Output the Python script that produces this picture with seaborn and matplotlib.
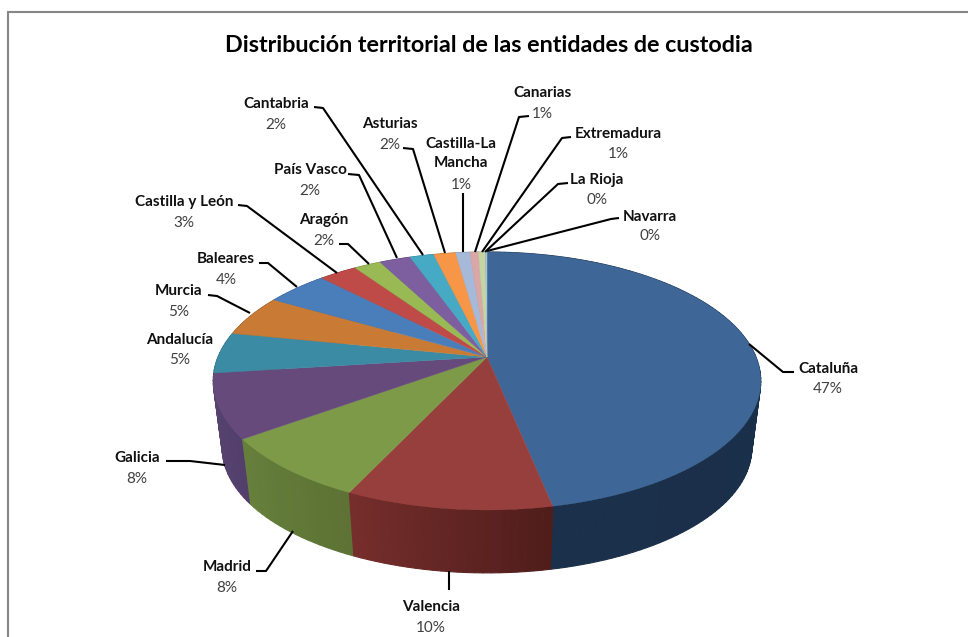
import numpy as np
import matplotlib
matplotlib.use("Agg")
import matplotlib.pyplot as plt
import seaborn as sns
from matplotlib.transforms import Transform
from matplotlib.colors import to_rgb

regions = ["Cataluña", "Valencia", "Madrid", "Galicia", "Andalucía", "Murcia", "Baleares",
           "Castilla y León", "Aragón", "País Vasco", "Cantabria", "Asturias",
           "Castilla-La\nMancha", "Canarias", "Extremadura", "La Rioja", "Navarra"]
shares = [46.8, 10.2, 8.0, 8.0, 5.15, 5.2, 4.4, 2.7, 1.9, 2.2, 1.7, 1.55, 1.0, 0.6, 0.5, 0.05, 0.05]
percent_labels = ["47%", "10%", "8%", "8%", "5%", "5%", "4%", "3%", "2%", "2%", "2%", "2%",
                  "1%", "1%", "1%", "0%", "0%"]
top_colors = ["#3e6797", "#963f3d", "#7d9a48", "#664a7c", "#3a8ba3", "#c97a35", "#4a7ebb",
              "#be4b48", "#98b954", "#7d5fa0", "#46aac5", "#f79646", "#a7b9d9", "#d9a7a6",
              "#c3d5a3", "#b3a5c9", "#a5d5e0"]
wall_left = ["#1b304b", "#762e2c", "#66803c", "#5a4570", "#2a6678", "#8f5725", "#35598a",
             "#873532", "#6c843c", "#594372", "#31798c", "#b06a32", "#77849a", "#9a7776",
             "#8b9874", "#7f758f", "#7597a0"]
wall_right = ["#192c45", "#4f1d1b", "#5d7234", "#533f6c", "#2a6678", "#8f5725", "#35598a",
              "#873532", "#6c843c", "#594372", "#31798c", "#b06a32", "#77849a", "#9a7776",
              "#8b9874", "#7f758f", "#7597a0"]

# label layout in figure pixels: centre x, name y, percentage y
label_x = [828, 431, 227, 137, 180, 179, 226, 184, 324, 310, 276, 390, 461, 542, 618, 597, 650]
label_y = [369, 607, 567, 458, 340, 291, 259, 202, 220, 170, 104, 124, 153.5, 93, 134, 180, 217]
pct_y = [389, 628, 588, 479, 360, 312, 280, 223, 241, 191, 125, 145, 185, 114, 154, 200, 236]
leaders = {
    "Cataluña": [(749, 344), (783, 372), (794, 372)],
    "Valencia": [(449, 571), (449, 590)],
    "Madrid": [(293, 531), (266, 571), (256, 571)],
    "Galicia": [(225, 465), (190, 461), (166, 461)],
    "Murcia": [(250, 313), (217, 296), (208, 295)],
    "Baleares": [(297, 287), (268, 263), (259, 263)],
    "Castilla y León": [(337, 273), (247, 206), (238, 205)],
    "Aragón": [(369, 264), (348, 244), (339, 244)],
    "País Vasco": [(397, 258), (359, 175), (348, 174)],
    "Cantabria": [(423, 255), (323, 108), (314, 107)],
    "Asturias": [(445, 253), (413, 149), (403, 148)],
    "Castilla-La\nMancha": [(463, 252), (463, 193)],
    "Canarias": [(475, 252), (519, 117), (529, 116)],
    "Extremadura": [(482, 252), (562, 138), (571, 137)],
    "La Rioja": [(485, 252), (558, 184), (568, 183)],
    "Navarra": [(487, 251), (611, 219), (619, 218)],
}

FONT = "Lato"
CX, CY = 487.0, 357.0
K, BX, BY = 0.186, 269.0, 124.5


class Tilt(Transform):
    """Perspective view of the unit-circle pie, into figure pixels."""
    input_dims = output_dims = 2
    is_separable = False
    has_inverse = False

    def __init__(self, scale=1.0, drop=0.0):
        super().__init__()
        self.scale, self.drop = scale, drop

    def transform_non_affine(self, values):
        xy = np.asarray(values, float)
        d = 1 + K * xy[:, 1]
        return np.column_stack([CX + self.scale * BX * xy[:, 0] / d,
                                CY + self.drop - self.scale * BY * xy[:, 1] / d])


sns.set_theme(style="white")
fig, ax = plt.subplots(figsize=(9.68, 6.37), dpi=100)
ax.set_position([0, 0, 1, 1])

top = Tilt()
bottom = Tilt(scale=0.967, drop=68.0)

wedges, _ = ax.pie(shares, colors=top_colors, startangle=90, counterclock=False,
                   wedgeprops={"linewidth": 0.3, "antialiased": True})
ax.set_aspect("auto")
ax.set_xlim(0, 968)
ax.set_ylim(637, 0)
ax.axis("off")

# side wall, from the same shares; strips sorted back to front
edges = np.concatenate([[0], np.cumsum(shares)]) / np.sum(shares) * 2 * np.pi
strips = []
for start, stop, c0, c1 in zip(edges[:-1], edges[1:], wall_left, wall_right):
    n = max(2, int((stop - start) / np.radians(1.5)))
    steps = np.linspace(start, stop, n + 1)
    for i in range(n):
        t = np.array([steps[i], steps[i + 1]])
        circle = np.column_stack([np.sin(t), np.cos(t)])
        up = top.transform_non_affine(circle)
        low = bottom.transform_non_affine(circle)
        # colour runs darker towards the right-hand end of each slice
        f = (i + 0.5) / n
        col = np.array(to_rgb(c0)) * f + np.array(to_rgb(c1)) * (1 - f)
        strips.append((float(np.cos(t).mean()), up, low, col))
strips.sort(key=lambda s: -s[0])
for order, (_, up, low, col) in enumerate(strips):
    ax.fill([up[0, 0], up[1, 0], low[1, 0], low[0, 0]],
            [up[0, 1], up[1, 1], low[1, 1], low[0, 1]],
            facecolor=col, edgecolor=col, lw=0.8, zorder=1 + order * 1e-4)

for w in wedges:
    w.set_transform(top + ax.transData)
    w.set_edgecolor(w.get_facecolor())
    w.set_clip_on(False)
    w.set_zorder(2)

# frame of the chart: left and top edges only are in view
ax.plot([8, 8, 968], [640, 12, 12], color="#868686", lw=1.5, zorder=0,
        solid_joinstyle="miter")

for name, pts in leaders.items():
    xs, ys = zip(*pts)
    ax.plot(xs, ys, color="black", lw=1.5, zorder=3, solid_capstyle="butt")

for name, pct, x, y, py in zip(regions, percent_labels, label_x, label_y, pct_y):
    ax.text(x, y, name, family=FONT, weight="bold", fontsize=11, color="#111111",
            ha="center", va="center", linespacing=1.4, zorder=4)
    ax.text(x, py, pct, family=FONT, fontsize=11, color="#404040",
            ha="center", va="center", zorder=4)

ax.text(489, 46, "Distribución territorial de las entidades de custodia", family=FONT,
        weight="bold", fontsize=16.8, color="#000000", ha="center", va="center")

fig.savefig("out.png", dpi=100, facecolor="white")
